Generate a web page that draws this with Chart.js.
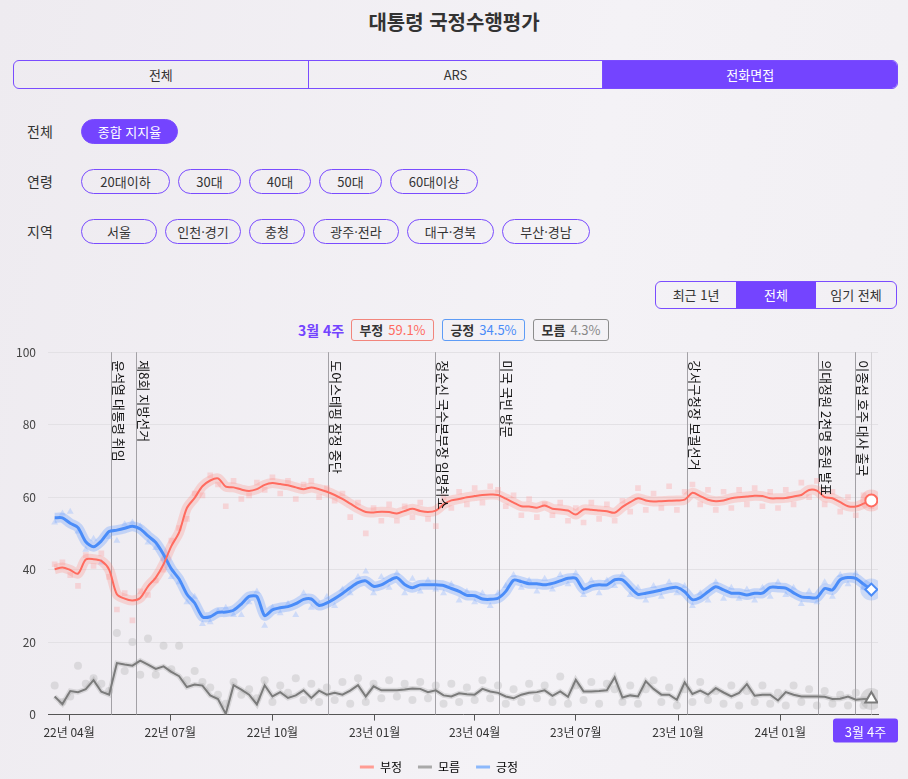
<!DOCTYPE html>
<html lang="ko">
<head>
<meta charset="utf-8">
<title>대통령 국정수행평가</title>
<script src="https://cdn.jsdelivr.net/npm/chart.js@4.4.1/dist/chart.umd.min.js"></script>
<style>
  * { box-sizing: border-box; }
  html, body { margin: 0; padding: 0; }
  body {
    width: 908px; height: 779px; overflow: hidden; position: relative;
    font-family: 'Noto Sans CJK KR', 'Noto Sans', sans-serif;
    color: #333;
    background: linear-gradient(100deg, #eeebf0 0%, #f4f2f6 60%, #f1eff3 100%);
  }
  h1 { position: absolute; top: 0; left: 0; width: 100%; margin: 0; line-height: 44px;
       text-align: center; font-size: 20px; font-weight: 700; color: #333; }
  .tabs { position: absolute; left: 13px; top: 60px; width: 885px; height: 29px; display: flex;
          border: 1px solid #7a4cff; border-radius: 6px; overflow: hidden; }
  .tabs div { flex: 1; text-align: center; line-height: 27px; font-size: 13px; }
  .tabs div + div { border-left: 1px solid #7a4cff; }
  .on { background: #7444ff; color: #fff; }
  .row { position: absolute; left: 0; width: 908px; height: 25px; }
  .row .lbl { position: absolute; left: 27px; line-height: 25px; font-size: 14px; }
  .pills { position: absolute; left: 81px; top: 0; display: flex; }
  .pill { height: 25px; margin-right: 8px; border: 1px solid #7a4cff; border-radius: 13px;
          text-align: center; line-height: 23px; font-size: 13px; }
  .period { position: absolute; left: 655px; top: 281px; width: 242px; height: 28px; display: flex;
            border: 1px solid #7a4cff; border-radius: 6px; overflow: hidden; }
  .period div { flex: 1; text-align: center; line-height: 26px; font-size: 13px; }
  .now { position: absolute; top: 319px; left: 0; width: 908px; height: 22px; }
  .now .wk { position: absolute; left: 298px; line-height: 22px; font-size: 14px; font-weight: 700;
             color: #7444ff; white-space: nowrap; }
  .box { position: absolute; top: 0; height: 22px; border: 1px solid; border-radius: 3px;
         font-size: 13px; line-height: 20px; text-align: center; white-space: nowrap; }
  .box b { font-weight: 700; color: #333; margin-right: 5px; }
  #wrap { position: absolute; left: 0; top: 333px; width: 908px; height: 450px; }
</style>
</head>
<body>
<h1>대통령 국정수행평가</h1>
<div class="tabs"><div>전체</div><div>ARS</div><div class="on">전화면접</div></div>

<div class="row" style="top:119px"><span class="lbl">전체</span>
  <div class="pills"><div class="pill on" style="width:97px">종합 지지율</div></div></div>
<div class="row" style="top:169px"><span class="lbl">연령</span>
  <div class="pills">
    <div class="pill" style="width:89px">20대이하</div><div class="pill" style="width:63px">30대</div>
    <div class="pill" style="width:62px">40대</div><div class="pill" style="width:63px">50대</div>
    <div class="pill" style="width:88px">60대이상</div></div></div>
<div class="row" style="top:219px"><span class="lbl">지역</span>
  <div class="pills">
    <div class="pill" style="width:76px">서울</div><div class="pill" style="width:76px">인천·경기</div>
    <div class="pill" style="width:56px">충청</div><div class="pill" style="width:86px">광주·전라</div>
    <div class="pill" style="width:87px">대구·경북</div><div class="pill" style="width:88px">부산·경남</div></div></div>

<div class="period"><div>최근 1년</div><div class="on">전체</div><div>임기 전체</div></div>

<div class="now">
  <span class="wk" id="wk"></span>
  <div class="box" style="left:351px;width:83px;border-color:#f2857c"><b>부정</b><span id="vNeg" style="color:#ff6b5f"></span></div>
  <div class="box" style="left:442px;width:83px;border-color:#5e9cf6"><b>긍정</b><span id="vPos" style="color:#4a8cf8"></span></div>
  <div class="box" style="left:533px;width:76px;border-color:#8c8c8c"><b>모름</b><span id="vDk" style="color:#888"></span></div>
</div>

<div id="wrap"><canvas id="trendChart"></canvas></div>

<script>
// 주간 집계 (2022-03-19 부터 매주)
const firstWeek = '2022-03-19';
const currentLabel = '3월 4주';

// 부정 평가 추세
const negative = [
  40.1, 40.6, 39.9, 38.9, 42.8, 42.9, 42.4, 40.0, 33.2, 32.0,
  31.5, 32.2, 35.4, 37.8, 41.5, 46.5, 50.3, 57.0, 59.8, 63.0,
  64.6, 65.2, 62.9, 62.7, 62.1, 61.7, 62.2, 63.4, 63.9, 63.6,
  63.3, 62.7, 62.2, 62.7, 62.2, 61.5, 60.6, 59.5, 58.2, 56.9,
  55.9, 55.8, 56.0, 55.9, 55.5, 56.2, 56.8, 56.2, 55.9, 56.3,
  58.0, 59.1, 59.5, 60.0, 60.3, 60.6, 60.7, 60.6, 59.6, 58.5,
  57.5, 57.4, 57.1, 57.7, 56.8, 56.6, 56.3, 55.2, 56.6, 56.5,
  56.3, 56.1, 55.7, 57.3, 58.6, 59.7, 59.1, 58.8, 58.9, 59.0,
  59.1, 59.3, 61.2, 60.3, 59.3, 58.9, 59.1, 59.7, 60.0, 60.2,
  60.4, 60.3, 59.7, 59.7, 59.8, 60.2, 60.6, 62.0, 61.8, 60.0,
  59.7, 58.6, 57.5, 57.4, 58.2, 59.1
];
// 긍정 평가 추세
const positive = [
  54.3, 54.3, 52.8, 51.6, 47.7, 46.3, 47.9, 50.5, 50.9, 51.4,
  52.0, 51.2, 49.3, 47.5, 44.2, 40.2, 37.4, 33.2, 30.8, 27.0,
  27.0, 28.2, 28.3, 28.8, 30.5, 32.6, 32.6, 27.3, 28.9, 29.5,
  29.8, 30.6, 31.8, 31.9, 30.1, 30.8, 32.0, 33.4, 35.0, 36.4,
  36.9, 35.4, 35.8, 37.0, 37.8, 35.9, 35.0, 35.8, 35.8, 35.8,
  35.6, 34.8, 34.0, 32.9, 32.8, 31.9, 31.8, 32.1, 34.0, 37.1,
  36.7, 36.1, 36.1, 35.8, 36.2, 36.9, 37.6, 37.6, 34.6, 35.5,
  35.8, 35.8, 37.2, 37.2, 35.1, 33.2, 33.5, 33.9, 34.4, 34.9,
  35.1, 33.9, 31.7, 32.3, 33.9, 35.3, 34.4, 33.5, 33.5, 33.0,
  33.5, 33.5, 35.1, 35.1, 34.9, 33.6, 32.5, 32.3, 32.3, 34.8,
  34.4, 37.2, 37.8, 37.6, 36.0, 34.5
];
// 모름/응답거절 추세
const unknown = [
  5.0, 2.9, 6.5, 6.2, 7.0, 9.5, 6.3, 5.5, 14.2, 13.8,
  13.5, 14.9, 13.8, 12.6, 13.3, 11.8, 10.6, 7.6, 8.3, 8.0,
  5.3, 4.3, 0.2, 8.1, 6.9, 5.5, 2.8, 8.1, 5.0, 6.2,
  4.6, 5.3, 6.7, 4.6, 6.6, 5.5, 6.0, 5.5, 6.6, 8.1,
  5.0, 7.8, 6.7, 6.7, 6.7, 6.9, 7.2, 7.1, 6.2, 6.7,
  5.3, 5.0, 5.9, 5.6, 5.5, 7.1, 6.4, 6.0, 5.0, 4.5,
  5.5, 6.0, 6.2, 6.7, 5.2, 6.4, 4.9, 9.6, 6.4, 6.4,
  6.5, 6.7, 10.3, 4.7, 5.3, 5.0, 9.2, 7.1, 5.5, 5.5,
  4.1, 8.9, 5.7, 6.6, 5.5, 7.3, 6.1, 5.0, 6.0, 8.4,
  5.2, 5.5, 5.5, 3.9, 6.2, 5.5, 5.0, 5.0, 5.0, 4.9,
  4.3, 4.4, 5.0, 4.1, 4.3, 4.3
];

// 개별 조사 결과 (주별)
const negPolls = [
  41.5, 42.0, 38.5, 35.5, 44.0, 41.0, 44.5, 38.0, 29.0, 33.5,
  26.0, 34.0, 33.0, 37.0, 40.0, 48.0, 51.5, 54.0, 61.0, 60.5,
  66.0, 63.5, 57.5, 64.5, 59.5, 60.5, 64.0, 62.0, 65.5, 61.0,
  64.5, 59.5, 63.5, 64.5, 60.0, 62.5, 59.0, 61.0, 54.5, 58.5,
  50.0, 57.0, 53.5, 58.0, 53.5, 57.5, 54.5, 58.5, 54.0, 52.0,
  60.0, 57.0, 61.5, 58.0, 62.5, 58.5, 63.0, 62.0, 57.5, 60.5,
  55.0, 59.5, 54.5, 58.0, 55.0, 58.5, 53.5, 57.0, 53.0, 58.5,
  54.0, 58.0, 53.5, 59.0, 56.0, 62.5, 56.5, 61.0, 57.0, 63.0,
  56.5, 61.5, 63.5, 58.0, 62.0, 56.5, 61.5, 57.0, 62.0, 58.0,
  62.5, 57.5, 61.5, 57.0, 62.0, 58.0, 64.0, 60.0, 64.5, 58.0,
  61.5, 56.0, 60.0, 55.0, 60.5, 57.5
];
const posPolls = [
  53.0, 55.5, 56.0, 50.5, 45.5, 48.5, 42.0, 49.0, 48.0, 52.5,
  53.0, 52.0, 47.5, 46.0, 43.0, 38.0, 36.5, 31.0, 32.5, 25.0,
  25.5, 28.5, 29.5, 27.5, 27.5, 31.0, 34.0, 24.5, 29.5, 28.0,
  30.5, 27.5, 33.5, 29.5, 30.5, 32.5, 30.0, 34.5, 33.5, 38.0,
  39.5, 33.5, 38.0, 35.0, 39.0, 33.5, 37.5, 34.0, 37.0, 34.5,
  33.5, 36.0, 31.5, 34.0, 31.0, 33.5, 30.0, 33.5, 35.5, 38.5,
  35.0, 37.0, 34.0, 37.5, 34.5, 38.5, 36.0, 39.0, 33.0, 37.0,
  33.5, 37.0, 35.5, 38.5, 33.0, 35.0, 31.5, 35.5, 32.5, 36.5,
  33.5, 35.5, 30.0, 33.5, 31.5, 36.5, 32.0, 35.0, 32.0, 34.5,
  31.5, 35.0, 32.5, 36.5, 33.0, 35.0, 30.5, 34.0, 31.0, 36.5,
  32.5, 38.5, 36.0, 39.0, 35.0, 33.5
];
const dkPolls = [
  8.0, 3.5, 5.0, 13.5, 8.5, 10.0, 8.5, 6.5, 22.5, 12.0,
  20.0, 11.0, 21.0, 11.0, 19.0, 12.5, 19.0, 9.5, 12.0, 9.0,
  7.5, 5.5, 3.0, 9.0, 5.5, 7.0, 4.5, 9.5, 3.5, 8.0,
  6.0, 10.0, 4.0, 8.5, 3.5, 7.5, 4.0, 9.0, 3.0, 10.0,
  3.5, 8.5, 4.5, 9.5, 5.0, 8.5, 4.0, 9.0, 4.5, 8.0,
  3.0, 8.5, 3.5, 7.5, 4.0, 9.5, 4.5, 8.0, 3.0, 7.0,
  3.5, 8.5, 4.5, 8.0, 3.5, 10.5, 3.0, 8.0, 4.0, 9.0,
  3.0, 8.5, 7.0, 3.5, 8.0, 3.0, 7.0, 9.5, 3.5, 7.5,
  2.5, 7.0, 3.5, 9.0, 4.0, 6.5, 3.0, 8.0, 2.5, 6.5,
  3.5, 8.0, 3.0, 6.0, 2.5, 8.0, 3.5, 7.0, 2.5, 6.5,
  3.0, 5.5, 2.5, 6.0, 2.5, 5.0
];

// x축 눈금
const tickDates = ['2022-04-01', '2022-07-01', '2022-10-01', '2023-01-01', '2023-04-01', '2023-07-01', '2023-10-01', '2024-01-01'];
const tickLabels = ['22년 04월', '22년 07월', '22년 10월', '23년 01월', '23년 04월', '23년 07월', '23년 10월', '24년 01월'];

// 주요 사건
const eventDates = ['2022-05-09', '2022-05-31', '2022-11-20', '2023-02-24', '2023-04-23', '2023-10-09', '2024-02-04', '2024-03-08'];
const eventNames = ['윤석열 대통령 취임', '제8회 지방선거', '도어스테핑 잠정 중단', '정순신 국수본부장 임명취소', '미국 국빈 방문', '강서구청장 보궐선거', '의대정원 2천명 증원 발표', '이종섭 호주 대사 출국'];

const baseDate = Date.UTC(2022, 3, 1);
function dayOf(s) {
    const p = s.split('-').map(Number);
    return Math.round((Date.UTC(p[0], p[1] - 1, p[2]) - baseDate) / 86400000);
}
const weekDays = negative.map((_, i) => dayOf(firstWeek) + i * 7);
const tickDays = tickDates.map(dayOf);
const eventDays = eventDates.map(dayOf);
const last = negative.length - 1;

function pts(arr) {
    return arr.map((v, i) => ({ x: weekDays[i], y: v }));
}

document.getElementById('wk').textContent = currentLabel;
document.getElementById('vNeg').textContent = negative[last] + '%';
document.getElementById('vPos').textContent = positive[last] + '%';
document.getElementById('vDk').textContent = unknown[last] + '%';

const FONT = "'Noto Sans CJK KR', 'Noto Sans', sans-serif";

// 사건 세로선 + 현재 시점선 + 배지
const eventPlugin = {
    id: 'events',
    beforeDatasetsDraw(chart) {
        const { ctx, chartArea: a, scales: { x } } = chart;
        ctx.save();
        ctx.lineWidth = 1;
        ctx.strokeStyle = '#a3a1a6';
        eventDays.forEach(d => {
            const px = Math.round(x.getPixelForValue(d)) + 0.5;
            ctx.beginPath(); ctx.moveTo(px, a.top); ctx.lineTo(px, a.bottom); ctx.stroke();
        });
        ctx.strokeStyle = '#d4d2d6';
        const lx = Math.round(x.getPixelForValue(weekDays[last])) + 0.5;
        ctx.beginPath(); ctx.moveTo(lx, a.top); ctx.lineTo(lx, a.bottom); ctx.stroke();
        ctx.restore();
    },
    afterDatasetsDraw(chart) {
        const { ctx, chartArea: a, scales: { x } } = chart;
        ctx.save();
        ctx.fillStyle = '#111';
        ctx.font = '13px ' + FONT;
        ctx.textBaseline = 'bottom';
        eventDays.forEach((d, i) => {
            const px = Math.round(x.getPixelForValue(d));
            ctx.save();
            ctx.translate(px + 1, a.top + 8);
            ctx.rotate(Math.PI / 2);
            ctx.fillText(eventNames[i], 0, 0);
            ctx.restore();
        });
        ctx.restore();
    },
    afterDraw(chart) {
        const { ctx, chartArea: a, scales: { x } } = chart;
        ctx.save();
        ctx.font = '13px ' + FONT;
        const w = 65, h = 24;
        const cx = x.getPixelForValue(weekDays[last]);
        const left = Math.min(cx - w / 2, 908 - 10 - w);
        const top = a.bottom + 4;
        ctx.fillStyle = '#7444ff';
        ctx.beginPath();
        ctx.roundRect(left, top, w, h, 3);
        ctx.fill();
        ctx.fillStyle = '#fff';
        ctx.textAlign = 'center';
        ctx.textBaseline = 'middle';
        ctx.fillText(currentLabel, left + w / 2, top + h / 2 + 1);
        ctx.restore();
    }
};

const lineBase = { type: 'line', pointRadius: 0, fill: false };
const endPoint = (arr) => [{ x: weekDays[last], y: arr[last] }];

new Chart(document.getElementById('trendChart'), {
    type: 'line',
    data: {
        datasets: [
            // 추세선
            { ...lineBase, label: '부정', data: pts(negative), borderColor: '#ff6b5f', borderWidth: 2, tension: 0.3, order: 1 },
            { ...lineBase, label: '모름', data: pts(unknown), borderColor: '#7b7b7b', borderWidth: 2, tension: 0, order: 1 },
            { ...lineBase, label: '긍정', data: pts(positive), borderColor: '#4a8cf8', borderWidth: 3, tension: 0.25, order: 1 },
            // 추세선 띠
            { ...lineBase, label: 'band-neg', data: pts(negative), borderColor: 'rgba(255,130,120,0.26)', borderWidth: 10, tension: 0.3, order: 2 },
            { ...lineBase, label: 'band-dk', data: pts(unknown), borderColor: 'rgba(160,160,160,0.3)', borderWidth: 5, tension: 0, order: 2 },
            { ...lineBase, label: 'band-pos', data: pts(positive), borderColor: 'rgba(90,150,255,0.3)', borderWidth: 10, tension: 0.25, order: 2 },
            // 개별 조사
            { type: 'scatter', label: 'poll-neg', data: pts(negPolls), pointStyle: 'rect', pointRadius: 4, borderWidth: 0, backgroundColor: 'rgba(255,150,150,0.3)', order: 3 },
            { type: 'scatter', label: 'poll-dk', data: pts(dkPolls), pointStyle: 'circle', pointRadius: 4, borderWidth: 0, backgroundColor: 'rgba(170,170,170,0.3)', order: 3 },
            { type: 'scatter', label: 'poll-pos', data: pts(posPolls), pointStyle: 'triangle', pointRadius: 4, borderWidth: 0, backgroundColor: 'rgba(140,180,255,0.35)', order: 3 },
            // 현재 시점 표시
            { type: 'scatter', label: 'halo', data: [...endPoint(negative), ...endPoint(positive), ...endPoint(unknown)], pointRadius: 11, borderWidth: 0,
              backgroundColor: ['rgba(255,120,110,0.25)', 'rgba(90,150,255,0.25)', 'rgba(160,160,160,0.3)'], order: 0 },
            { type: 'scatter', label: 'end-neg', data: endPoint(negative), pointStyle: 'circle', pointRadius: 6, borderWidth: 2, borderColor: '#ff6b5f', backgroundColor: '#fff', order: -1 },
            { type: 'scatter', label: 'end-pos', data: endPoint(positive), pointStyle: 'rectRot', pointRadius: 6, borderWidth: 2, borderColor: '#4a8cf8', backgroundColor: '#fff', order: -1 },
            { type: 'scatter', label: 'end-dk', data: endPoint(unknown), pointStyle: 'triangle', pointRadius: 7, borderWidth: 2, borderColor: '#7b7b7b', backgroundColor: '#fff', order: -1 }
        ]
    },
    options: {
        responsive: true,
        maintainAspectRatio: false,
        animation: false,
        layout: { padding: { top: 4, right: 30, left: 0, bottom: 0 } },
        plugins: {
            tooltip: { enabled: false },
            legend: {
                position: 'bottom',
                labels: {
                    font: { family: FONT, size: 12 },
                    color: '#444',
                    boxWidth: 14,
                    boxHeight: 3,
                    padding: 16,
                    generateLabels: () => [
                        { text: '부정', fillStyle: '#ff9c93', strokeStyle: '#ff9c93', lineWidth: 0, datasetIndex: 0 },
                        { text: '모름', fillStyle: '#a9a9a9', strokeStyle: '#a9a9a9', lineWidth: 0, datasetIndex: 1 },
                        { text: '긍정', fillStyle: '#8cb8fb', strokeStyle: '#8cb8fb', lineWidth: 0, datasetIndex: 2 }
                    ]
                }
            }
        },
        scales: {
            x: {
                type: 'linear',
                min: -19,
                max: 728,
                afterBuildTicks: s => { s.ticks = tickDays.map(v => ({ value: v })); },
                ticks: {
                    callback: v => tickLabels[tickDays.indexOf(v)] || '',
                    font: { family: FONT, size: 12 },
                    color: '#333',
                    padding: 5,
                    maxRotation: 0
                },
                grid: { drawOnChartArea: false, drawTicks: true, tickLength: 6, color: '#555' },
                border: { display: true, color: '#555' }
            },
            y: {
                min: 0,
                max: 100,
                afterFit: s => { s.width = 48; },
                ticks: { stepSize: 20, font: { family: FONT, size: 12 }, color: '#444', padding: 12 },
                grid: { color: '#e3e1e5', drawTicks: false },
                border: { display: false }
            }
        }
    },
    plugins: [eventPlugin]
});
</script>
</body>
</html>
